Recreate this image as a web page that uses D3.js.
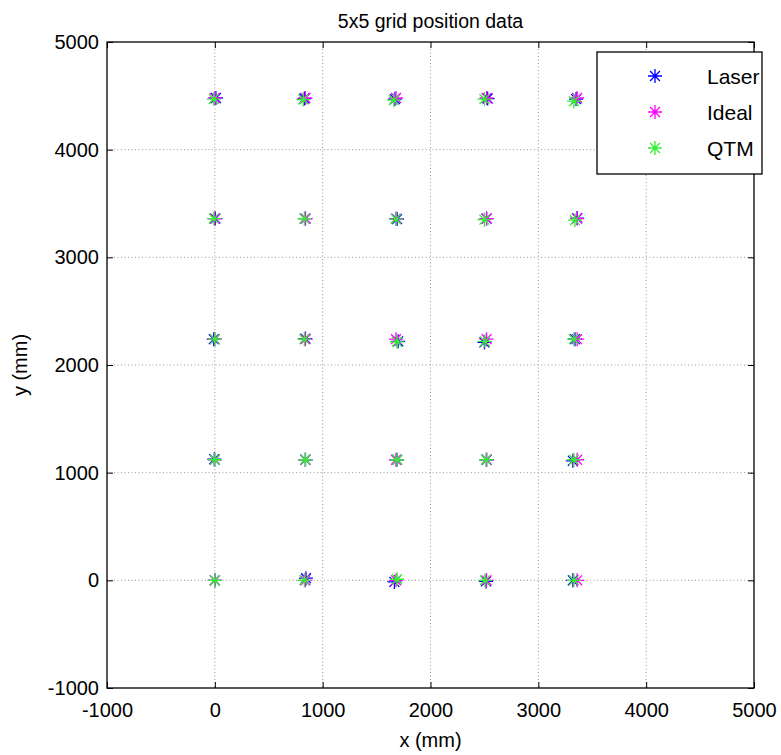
<!DOCTYPE html>
<html>
<head>
<meta charset="utf-8">
<title>5x5 grid position data</title>
<script src="https://cdn.jsdelivr.net/npm/d3@7"></script>
<style>
body { margin: 0; background: #fff; font-family: "Liberation Sans", Arial, sans-serif; }
.grid line { stroke: #999; stroke-dasharray: 1,2.5; stroke-width: 1; }
</style>
</head>
<body>
<script>
// series (mm)
var idealX = [0, 840, 1680, 2520, 3360, 0, 840, 1680, 2520, 3360, 0, 840, 1680, 2520, 3360, 0, 840, 1680, 2520, 3360, 0, 840, 1680, 2520, 3360];
var idealY = [4480, 4480, 4480, 4480, 4480, 3360, 3360, 3360, 3360, 3360, 2240, 2240, 2240, 2240, 2240, 1120, 1120, 1120, 1120, 1120, 0, 0, 0, 0, 0];
var laserX = [10, 830, 1670, 2530, 3350, 5, 840, 1690, 2520, 3360, -10, 840, 1700, 2500, 3340, -5, 840, 1690, 2520, 3320, 0, 845, 1665, 2515, 3320];
var laserY = [4480, 4475, 4470, 4475, 4470, 3360, 3360, 3355, 3360, 3365, 2240, 2245, 2220, 2210, 2240, 1125, 1120, 1120, 1120, 1110, 0, 20, -15, -10, 0];
var qtmX = [-10, 820, 1660, 2500, 3330, -10, 830, 1680, 2500, 3340, 0, 830, 1690, 2505, 3330, 0, 840, 1690, 2515, 3330, 0, 830, 1690, 2505, 3330];
var qtmY = [4470, 4465, 4460, 4470, 4450, 3360, 3360, 3355, 3350, 3345, 2240, 2240, 2215, 2220, 2240, 1120, 1120, 1120, 1120, 1120, 0, 0, 10, 0, 0];

var seriesNames = ["Laser", "Ideal", "QTM"];
var seriesColors = ["#0000ff", "#ff00ff", "#33ee33"];
var xTicks = [-1000, 0, 1000, 2000, 3000, 4000, 5000];
var yTicks = [-1000, 0, 1000, 2000, 3000, 4000, 5000];

var w = 781, h = 755;
var mLeft = 107, mRight = 754, mTop = 42, mBottom = 688;

var svg = d3.select("body").append("svg")
  .attr("width", w)
  .attr("height", h);

var x = d3.scaleLinear().domain([-1000, 5000]).range([mLeft, mRight]);
var y = d3.scaleLinear().domain([-1000, 5000]).range([mBottom, mTop]);
var fmt = function(d){ return String(d); };

// grid
var grid = svg.append("g").attr("class", "grid");
grid.selectAll(".gx").data(xTicks.slice(1, -1)).enter().append("line")
  .attr("x1", function(d){return x(d);}).attr("x2", function(d){return x(d);})
  .attr("y1", mTop).attr("y2", mBottom);
grid.selectAll(".gy").data(yTicks.slice(1, -1)).enter().append("line")
  .attr("y1", function(d){return y(d);}).attr("y2", function(d){return y(d);})
  .attr("x1", mLeft).attr("x2", mRight);

// axes, ticks inward on all four sides
function styleAxis(g) {
  g.select(".domain").remove();
  g.selectAll(".tick line").attr("stroke", "#000");
  g.selectAll(".tick text").attr("fill", "#000").style("font-size", "20px").style("font-family", "Liberation Sans, Arial, sans-serif");
}
svg.append("g").attr("transform", "translate(0," + mBottom + ")")
  .call(d3.axisBottom(x).tickValues(xTicks).tickSizeInner(-6).tickSizeOuter(0).tickPadding(15).tickFormat(fmt))
  .call(styleAxis);
svg.append("g").attr("transform", "translate(" + mLeft + ",0)")
  .call(d3.axisLeft(y).tickValues(yTicks).tickSizeInner(-6).tickSizeOuter(0).tickPadding(8).tickFormat(fmt))
  .call(styleAxis);
svg.append("g").attr("transform", "translate(0," + mTop + ")")
  .call(d3.axisTop(x).tickValues(xTicks).tickSizeInner(-6).tickSizeOuter(0).tickFormat(""))
  .call(styleAxis);
svg.append("g").attr("transform", "translate(" + mRight + ",0)")
  .call(d3.axisRight(y).tickValues(yTicks).tickSizeInner(-6).tickSizeOuter(0).tickFormat(""))
  .call(styleAxis);

svg.append("rect")
  .attr("x", mLeft).attr("y", mTop)
  .attr("width", mRight - mLeft).attr("height", mBottom - mTop)
  .attr("fill", "none").attr("stroke", "#000").attr("stroke-width", 1.3);

// star marker like matlab '*'
var ms = 7;
function star(g, cx, cy, color) {
  var d = ms * 0.7071;
  var p = "M" + (cx - ms) + "," + cy + "H" + (cx + ms) +
          "M" + cx + "," + (cy - ms) + "V" + (cy + ms) +
          "M" + (cx - d) + "," + (cy - d) + "L" + (cx + d) + "," + (cy + d) +
          "M" + (cx - d) + "," + (cy + d) + "L" + (cx + d) + "," + (cy - d);
  g.append("path").attr("d", p).attr("stroke", color).attr("stroke-width", 1.3).attr("fill", "none");
}

var allX = [laserX, idealX, qtmX];
var allY = [laserY, idealY, qtmY];
for (var s = 0; s < 3; s++) {
  var g = svg.append("g").attr("class", "series-" + seriesNames[s]);
  for (var i = 0; i < allX[s].length; i++) {
    star(g, x(allX[s][i]), y(allY[s][i]), seriesColors[s]);
  }
}

// legend
var key = svg.append("g");
key.append("rect").attr("x", 597).attr("y", 52).attr("width", 165).attr("height", 122)
  .attr("fill", "#fff").attr("stroke", "#000").attr("stroke-width", 1.3);
seriesNames.forEach(function(n, i) {
  star(key, 655, 76 + i * 36, seriesColors[i]);
  key.append("text").attr("x", 707).attr("y", 76 + i * 36 + 8).text(n)
    .style("font-size", "21px").attr("fill", "#000");
});

// labels
svg.append("text").attr("x", (mLeft + mRight) / 2).attr("y", 28).attr("text-anchor", "middle")
  .style("font-size", "19.5px").text("5x5 grid position data");
svg.append("text").attr("x", (mLeft + mRight) / 2).attr("y", 747).attr("text-anchor", "middle")
  .style("font-size", "20px").text("x (mm)");
svg.append("text").attr("transform", "translate(27," + ((mTop + mBottom) / 2) + ") rotate(-90)")
  .attr("text-anchor", "middle").style("font-size", "20px").text("y (mm)");
</script>
</body>
</html>
